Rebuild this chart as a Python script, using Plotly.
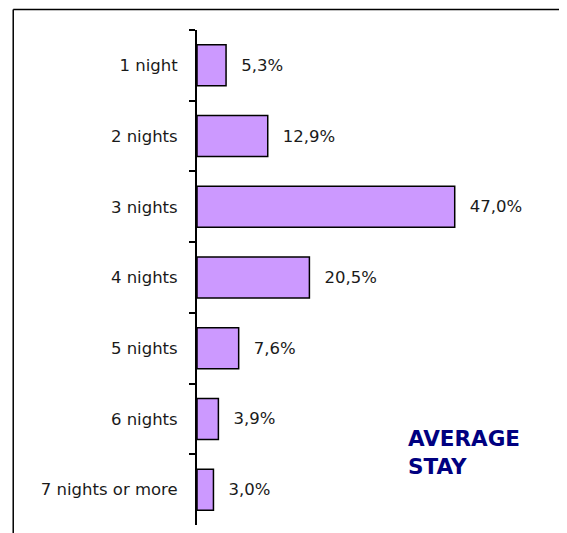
import plotly.graph_objects as go

categories = ["1 night", "2 nights", "3 nights", "4 nights", "5 nights", "6 nights", "7 nights or more"]
values = [5.3, 12.9, 47.0, 20.5, 7.6, 3.9, 3.0]
value_labels = ["\u00a0\u00a0\u200a" + f"{v:.1f}".replace(".", ",") + "%" for v in values]

# page body has an 8px margin; positions below are screen pixels
OFF = 8
W, H = 567, 533
AX_L, AX_T, AX_B = 197, 30, 525
XMAX = 60.0
PX_PER_UNIT = 5.49
plot_w = XMAX * PX_PER_UNIT
L = AX_L - OFF
T = AX_T - OFF
B = H - (AX_B - OFF)
R = W - L - plot_w
plot_h = H - T - B

def px_to_paper_x(px):
    return (px - OFF - L) / plot_w

def px_to_paper_y(py):
    return (H - B - (py - OFF)) / plot_h

FONT = "DejaVu Sans"
FRAME_Y = 9.5

fig = go.Figure()
fig.add_trace(go.Bar(
    y=categories, x=values, orientation="h",
    marker=dict(color="#CC99FF", line=dict(color="black", width=1.5)),
    width=0.58,
    text=value_labels, textposition="outside", cliponaxis=False,
    textfont=dict(family=FONT, size=16.5, color="#1a1a1a"),
    hoverinfo="skip",
))

fig.update_layout(
    width=W, height=H,
    margin=dict(l=L, r=R, t=T, b=B, pad=0),
    plot_bgcolor="white", paper_bgcolor="white",
    showlegend=False,
    font=dict(family=FONT, size=16.5, color="#1a1a1a"),
    xaxis=dict(range=[0, XMAX], visible=False, fixedrange=True),
    yaxis=dict(
        autorange="reversed", type="category",
        showline=True, linecolor="black", linewidth=2,
        ticks="outside", tickson="boundaries", ticklen=6, tickwidth=1.5, tickcolor="black",
        ticklabelstandoff=14, showgrid=False, zeroline=False,
        tickfont=dict(family=FONT, size=16.5, color="#1a1a1a"),
    ),
    shapes=[
        dict(type="line", xref="paper", yref="paper",
             x0=px_to_paper_x(13), x1=px_to_paper_x(580), y0=px_to_paper_y(FRAME_Y), y1=px_to_paper_y(FRAME_Y),
             line=dict(color="black", width=1.5)),
        dict(type="line", xref="paper", yref="paper",
             x0=px_to_paper_x(13), x1=px_to_paper_x(13), y0=px_to_paper_y(FRAME_Y), y1=px_to_paper_y(545),
             line=dict(color="black", width=1.5)),
    ],
    annotations=[
        dict(text="<b>AVERAGE<br>STAY</b>", xref="paper", yref="paper",
             x=px_to_paper_x(406), y=px_to_paper_y(424), xanchor="left", yanchor="top",
             align="left", showarrow=False,
             font=dict(family=FONT, size=21.5, color="#000080")),
    ],
)

fig.write_html("out.html")
